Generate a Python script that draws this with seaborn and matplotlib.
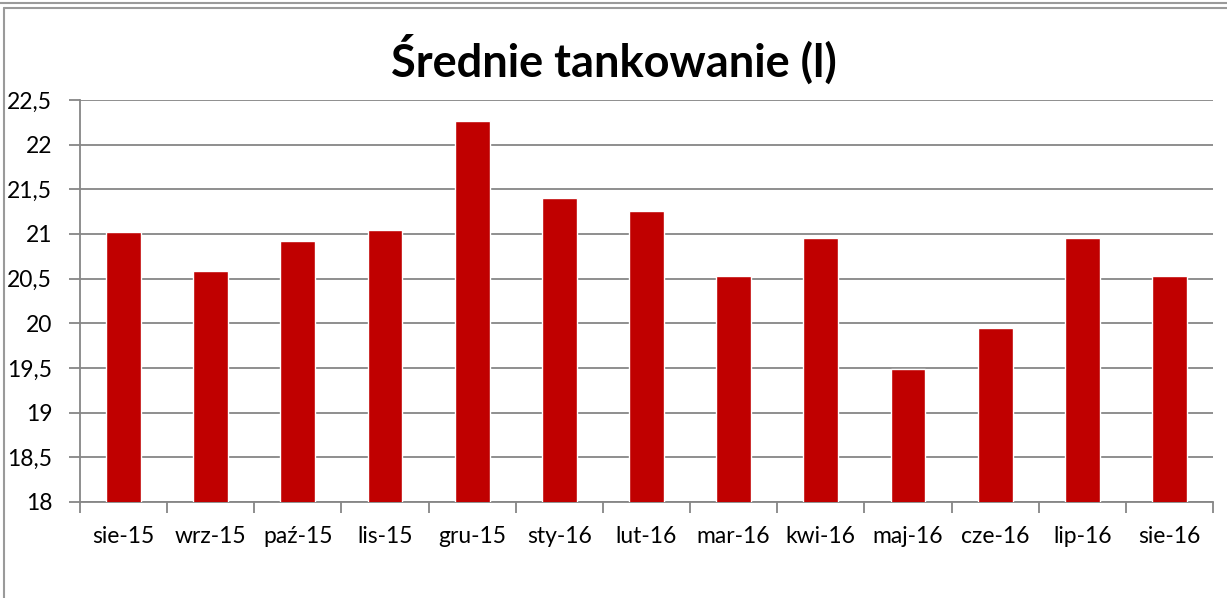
import matplotlib
matplotlib.use('Agg')
import matplotlib.pyplot as plt
import seaborn as sns
import pandas as pd
from matplotlib.lines import Line2D

months = ['sie-15', 'wrz-15', 'paź-15', 'lis-15', 'gru-15', 'sty-16', 'lut-16',
          'mar-16', 'kwi-16', 'maj-16', 'cze-16', 'lip-16', 'sie-16']
avg_fill = [21.02, 20.59, 20.92, 21.05, 22.27, 21.40, 21.26,
            20.53, 20.95, 19.49, 19.95, 20.96, 20.53]
y_ticks = [18, 18.5, 19, 19.5, 20, 20.5, 21, 21.5, 22, 22.5]
y_labels = ['18', '18,5', '19', '19,5', '20', '20,5', '21', '21,5', '22', '22,5']

df = pd.DataFrame({'month': months, 'litres': avg_fill})

sns.set_style('white')
plt.rcParams['font.family'] = ['Lato', 'DejaVu Sans']

W, H = 1227, 598
fig = plt.figure(figsize=(W / 100, H / 100), dpi=100)
ax = fig.add_axes([80 / W, 1 - 502 / H, (1213 - 80) / W, (502 - 100) / H])

sns.barplot(data=df, x='month', y='litres', color='#C00000', width=0.40,
            saturation=1, ax=ax, zorder=3)

grey = '#868686'
ax.set_ylim(18, 22.5)
ax.set_xlim(-0.5, len(months) - 0.5)
ax.set_yticks(y_ticks)
ax.set_yticklabels(y_labels, fontsize=16.5)
ax.yaxis.grid(True, color=grey, linewidth=1.3, zorder=0)
ax.set_axisbelow(True)
ax.tick_params(axis='y', length=8, width=1.3, color=grey, labelcolor='black',
               pad=12, left=True)
ax.tick_params(axis='x', which='major', length=0, labelsize=16.5,
               labelcolor='black', pad=17)
ax.set_xticks([i - 0.5 for i in range(len(months) + 1)], minor=True)
ax.tick_params(axis='x', which='minor', length=8, width=1.3, color=grey, bottom=True)
ax.set_xlabel('')
ax.set_ylabel('')
for s in ['top', 'right']:
    ax.spines[s].set_visible(False)
for s in ['left', 'bottom']:
    ax.spines[s].set_color(grey)
    ax.spines[s].set_linewidth(1.3)

fig.text(0.5, 1 - 60 / H, 'Średnie tankowanie (l)', ha='center', va='center',
         fontsize=32.5, fontweight='bold', color='black')

# chart frame
def px_line(x0, y0, x1, y1):
    fig.add_artist(Line2D([x0 / W, x1 / W], [1 - y0 / H, 1 - y1 / H],
                          color='#9a9a9a', linewidth=1.5))

px_line(0, 3, W, 3)
px_line(4, 8, W, 8)
px_line(4, 8, 4, H)

fig.savefig('out.png', dpi=100)
